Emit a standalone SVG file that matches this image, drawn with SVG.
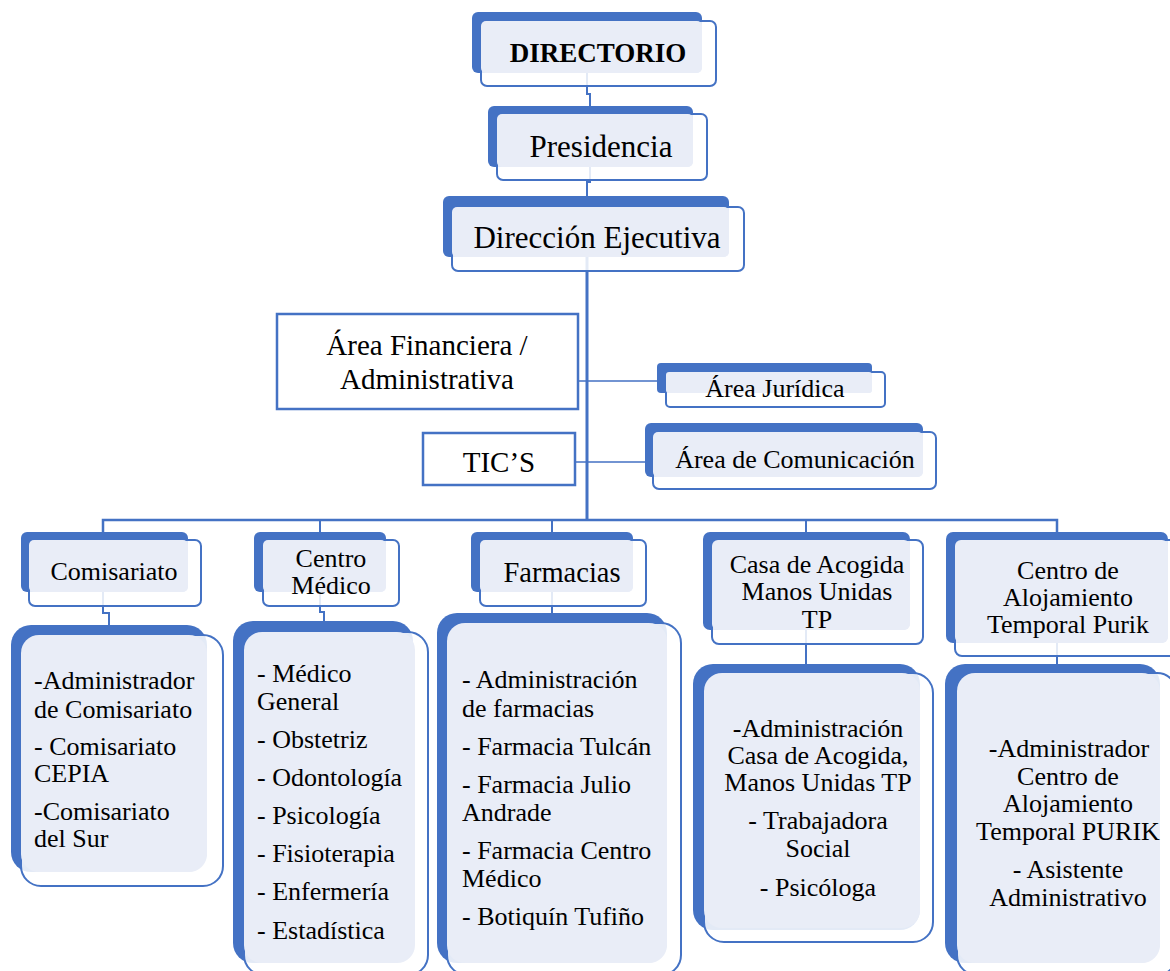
<svg xmlns="http://www.w3.org/2000/svg" width="1170" height="971" viewBox="0 0 1170 971">
<style>
.bk{fill:#4472C4}
.fr{fill:#ffffff;fill-opacity:0.85;stroke:#4472C4;stroke-width:2}
.lt{fill:#E9EDF7}
.bx{fill:#ffffff;stroke:#4472C4;stroke-width:2.5}
.cn{fill:none;stroke:#4472C4;stroke-width:2}
.t{font-family:"Liberation Serif","Times New Roman",serif;fill:#000000;font-size:26px}
.c{text-anchor:middle}
.s31{font-size:31px}
.s29{font-size:29px}
.s28{font-size:28.5px}
.s27{font-size:27px;font-weight:bold}
</style>
<rect width="1170" height="971" fill="#ffffff"/>
<g id="connectors">
<path class="cn" d="M587,60 V94 H590 V112"/>
<path class="cn" d="M590,150 V182 H587 V202"/>
<path class="cn" d="M587,250 V520" style="stroke-width:3"/>
<path class="cn" d="M103,533 V520 H1057 V533" style="stroke-width:2.5"/>
<path class="cn" d="M320,520 V534 M552,520 V534 M806,520 V534"/>
<path class="cn" d="M578,381 H660 M575,462 H648" style="stroke-width:1.5"/>
<path class="cn" d="M103,585 V613 H109 V628"/>
<path class="cn" d="M320,585 V612 H324 V625"/>
<path class="cn" d="M552,585 V616"/>
<path class="cn" d="M806,620 V667"/>
<path class="cn" d="M1057,630 V667"/>
</g>
<g id="directorio">
<rect class="bk" x="472" y="12" width="230" height="61" rx="6"/>
<rect class="fr" x="481" y="21" width="235" height="65" rx="6"/>
<rect class="lt" x="481" y="21" width="221" height="52" rx="5"/>
<text class="t c s27" x="598" y="62">DIRECTORIO</text>
</g>
<g id="presidencia">
<rect class="bk" x="488" y="106" width="205" height="61" rx="6"/>
<rect class="fr" x="497" y="114" width="210" height="66" rx="6"/>
<rect class="lt" x="497" y="114" width="196" height="53" rx="5"/>
<text class="t c s31" x="601" y="157">Presidencia</text>
</g>
<g id="direccion">
<rect class="bk" x="443" y="196" width="286" height="61" rx="6"/>
<rect class="fr" x="452" y="207" width="292" height="64" rx="6"/>
<rect class="lt" x="452" y="207" width="277" height="50" rx="5"/>
<text class="t c s31" x="597" y="248">Dirección Ejecutiva</text>
</g>
<g id="financiera">
<rect class="bx" x="277" y="314" width="301" height="95"/>
<text class="t c s29" x="427" y="355">Área Financiera /</text>
<text class="t c s29" x="427" y="389">Administrativa</text>
</g>
<g id="tics">
<rect class="bx" x="423" y="433" width="152" height="52"/>
<text class="t c s29" x="499" y="472">TIC’S</text>
</g>
<g id="juridica">
<rect class="bk" x="657" y="363" width="215" height="30" rx="4"/>
<rect class="fr" x="666" y="372" width="219" height="35" rx="4"/>
<rect class="lt" x="666" y="372" width="206" height="21" rx="3"/>
<text class="t c" x="775" y="397">Área Jurídica</text>
</g>
<g id="comunicacion">
<rect class="bk" x="645" y="423" width="278" height="54" rx="6"/>
<rect class="fr" x="653" y="432" width="283" height="57" rx="6"/>
<rect class="lt" x="653" y="432" width="270" height="45" rx="5"/>
<text class="t c" x="795" y="468">Área de Comunicación</text>
</g>
<g id="comisariato">
<rect class="bk" x="21" y="532" width="167" height="60" rx="6"/>
<rect class="fr" x="29" y="540" width="172" height="66" rx="6"/>
<rect class="lt" x="29" y="540" width="159" height="52" rx="5"/>
<text class="t c" x="114" y="580">Comisariato</text>
</g>
<g id="comisariato-detalle">
<rect class="bk" x="11" y="625" width="196" height="247" rx="20"/>
<rect class="fr" x="21" y="635" width="202" height="251" rx="20"/>
<rect class="lt" x="21" y="635" width="186" height="237" rx="18"/>
<text class="t" x="34" y="689">-Administrador</text>
<text class="t" x="34" y="718">de Comisariato</text>
<text class="t" x="34" y="755">- Comisariato</text>
<text class="t" x="34" y="782">CEPIA</text>
<text class="t" x="34" y="820">-Comisariato</text>
<text class="t" x="34" y="847">del Sur</text>
</g>
<g id="centro-medico">
<rect class="bk" x="254" y="532" width="132" height="60" rx="6"/>
<rect class="fr" x="263" y="540" width="136" height="66" rx="6"/>
<rect class="lt" x="263" y="540" width="123" height="52" rx="5"/>
<text class="t c" x="331" y="567">Centro</text>
<text class="t c" x="331" y="594">Médico</text>
</g>
<g id="centro-medico-detalle">
<rect class="bk" x="233" y="621" width="180" height="342" rx="20"/>
<rect class="fr" x="244" y="632" width="184" height="343" rx="20"/>
<rect class="lt" x="244" y="632" width="171" height="331" rx="18"/>
<text class="t" x="257" y="682">- Médico</text>
<text class="t" x="257" y="710">General</text>
<text class="t" x="257" y="748">- Obstetriz</text>
<text class="t" x="257" y="786">- Odontología</text>
<text class="t" x="257" y="824">- Psicología</text>
<text class="t" x="257" y="862">- Fisioterapia</text>
<text class="t" x="257" y="900">- Enfermería</text>
<text class="t" x="257" y="939">- Estadística</text>
</g>
<g id="farmacias">
<rect class="bk" x="471" y="532" width="162" height="60" rx="6"/>
<rect class="fr" x="480" y="540" width="166" height="66" rx="6"/>
<rect class="lt" x="480" y="540" width="153" height="52" rx="5"/>
<text class="t c s28" x="562" y="582">Farmacias</text>
</g>
<g id="farmacias-detalle">
<rect class="bk" x="437" y="613" width="230" height="350" rx="20"/>
<rect class="fr" x="447" y="623" width="234" height="352" rx="20"/>
<rect class="lt" x="447" y="623" width="220" height="340" rx="18"/>
<text class="t" x="462" y="688">- Administración</text>
<text class="t" x="462" y="717">de farmacias</text>
<text class="t" x="462" y="755">- Farmacia Tulcán</text>
<text class="t" x="462" y="793">- Farmacia Julio</text>
<text class="t" x="462" y="821">Andrade</text>
<text class="t" x="462" y="859">- Farmacia Centro</text>
<text class="t" x="462" y="887">Médico</text>
<text class="t" x="462" y="925">- Botiquín Tufiño</text>
</g>
<g id="casa-acogida">
<rect class="bk" x="703" y="532" width="207" height="98" rx="7"/>
<rect class="fr" x="712" y="540" width="211" height="104" rx="7"/>
<rect class="lt" x="712" y="540" width="198" height="90" rx="6"/>
<text class="t c" x="817" y="573">Casa de Acogida</text>
<text class="t c" x="817" y="600">Manos Unidas</text>
<text class="t c" x="817" y="628">TP</text>
</g>
<g id="casa-acogida-detalle">
<rect class="bk" x="693" y="664" width="227" height="266" rx="20"/>
<rect class="fr" x="704" y="673" width="229" height="269" rx="20"/>
<rect class="lt" x="704" y="673" width="216" height="255" rx="18"/>
<text class="t c" x="818" y="737">-Administración</text>
<text class="t c" x="818" y="764">Casa de Acogida,</text>
<text class="t c" x="818" y="791">Manos Unidas TP</text>
<text class="t c" x="818" y="829">- Trabajadora</text>
<text class="t c" x="818" y="857">Social</text>
<text class="t c" x="818" y="896">- Psicóloga</text>
</g>
<g id="alojamiento">
<rect class="bk" x="946" y="532" width="222" height="111" rx="7"/>
<rect class="fr" x="955" y="540" width="225" height="116" rx="7"/>
<rect class="lt" x="955" y="540" width="213" height="103" rx="6"/>
<text class="t c" x="1068" y="579">Centro de</text>
<text class="t c" x="1068" y="606">Alojamiento</text>
<text class="t c" x="1068" y="633">Temporal Purik</text>
</g>
<g id="alojamiento-detalle">
<rect class="bk" x="945" y="664" width="215" height="299" rx="20"/>
<rect class="fr" x="957" y="673" width="220" height="302" rx="20"/>
<rect class="lt" x="957" y="673" width="203" height="290" rx="18"/>
<text class="t c" x="1069" y="757">-Administrador</text>
<text class="t c" x="1068" y="785">Centro de</text>
<text class="t c" x="1068" y="812">Alojamiento</text>
<text class="t c" x="1068" y="840">Temporal PURIK</text>
<text class="t c" x="1068" y="878">- Asistente</text>
<text class="t c" x="1068" y="906">Administrativo</text>
</g>
</svg>
